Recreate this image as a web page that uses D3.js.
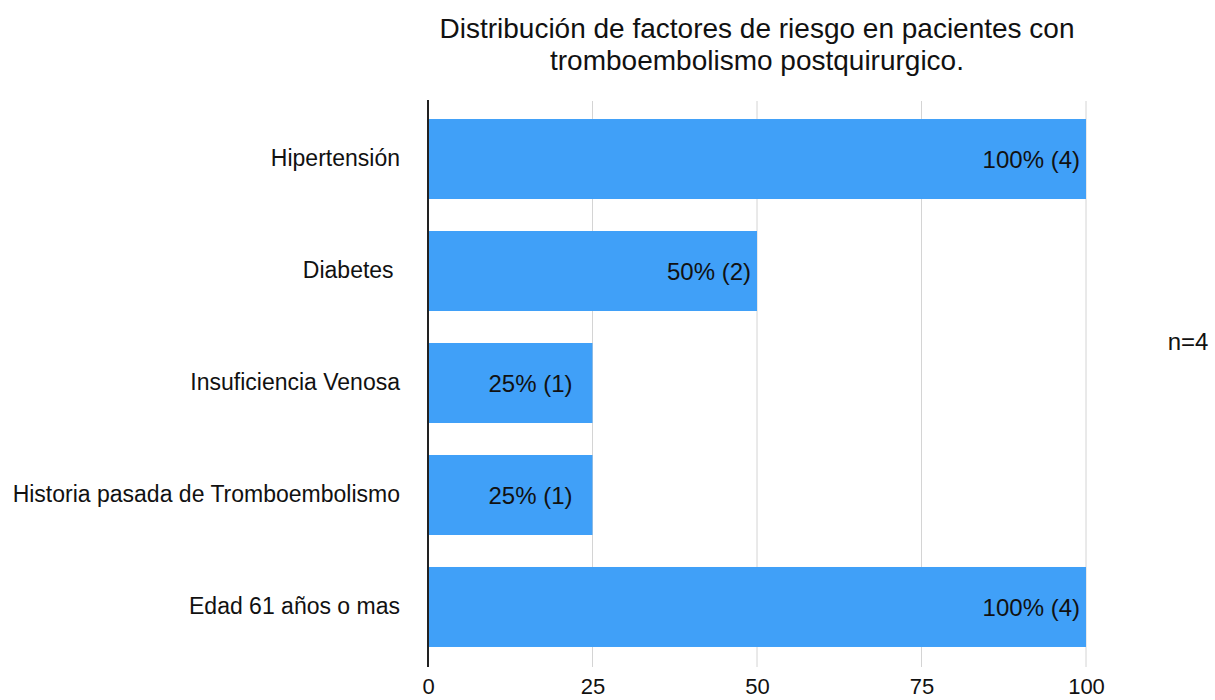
<!DOCTYPE html>
<html>
<head>
<meta charset="utf-8">
<script src="https://cdn.jsdelivr.net/npm/d3@7"></script>
<style>
  body { margin: 0; background: #fff; }
  svg { display: block; font-family: "Liberation Sans", Arial, Helvetica, sans-serif; }
</style>
</head>
<body>
<svg id="chart" width="1215" height="700"></svg>
<script>
// Risk factors and the share of patients (n=4) presenting each one
const categories = [
  "Hipertensión",
  "Diabetes ",
  "Insuficiencia Venosa",
  "Historia pasada de Tromboembolismo",
  "Edad 61 años o mas"
];
const percentages = [100, 50, 25, 25, 100];
const counts = [4, 2, 1, 1, 4];
const tickValues = [0, 25, 50, 75, 100];
const titleLines = [
  "Distribución de factores de riesgo en pacientes con",
  "tromboembolismo postquirurgico."
];
const sampleNote = "n=4";

const svg = d3.select("#chart");
const plot = { left: 428, right: 1086, top: 100, bottom: 667 };

const x = d3.scaleLinear().domain([0, 100]).range([plot.left, plot.right]);
const y = d3.scaleBand()
  .domain(categories)
  .range([103, 663])
  .paddingInner(0.2857)
  .paddingOuter(0.143);

// Vertical gridlines
svg.append("g")
  .selectAll("line")
  .data(tickValues.filter(d => d > 0))
  .join("line")
  .attr("x1", d => x(d)).attr("x2", d => x(d))
  .attr("y1", plot.top + 1).attr("y2", plot.bottom)
  .attr("stroke", "#d4d4d4")
  .attr("stroke-width", 1);

// Bars
const rows = categories.map((c, i) => ({ c, v: percentages[i], n: counts[i] }));
svg.append("g")
  .selectAll("rect")
  .data(rows)
  .join("rect")
  .attr("x", x(0))
  .attr("y", d => y(d.c))
  .attr("width", d => x(d.v) - x(0))
  .attr("height", y.bandwidth())
  .attr("fill", "#40a0f8");

// Value labels inside the bars
svg.append("g")
  .selectAll("text")
  .data(rows)
  .join("text")
  .attr("x", d => x(d.v) - (d.v <= 25 ? 20 : 6))
  .attr("y", d => y(d.c) + y.bandwidth() / 2)
  .attr("dy", "0.36em")
  .attr("text-anchor", "end")
  .attr("font-size", 24)
  .attr("fill", "#111")
  .text(d => `${d.v}% (${d.n})`);

// Baseline axis
svg.append("line")
  .attr("x1", x(0)).attr("x2", x(0))
  .attr("y1", plot.top).attr("y2", plot.bottom)
  .attr("stroke", "#222")
  .attr("stroke-width", 2);

// Category axis labels
const yAxis = d3.axisLeft(y).tickSize(0).tickPadding(28);
const gy = svg.append("g").attr("transform", `translate(${x(0)},0)`).call(yAxis);
gy.select(".domain").remove();
gy.selectAll("text")
  .attr("font-size", 23)
  .attr("fill", "#111")
  .style("white-space", "pre")
  .attr("font-family", "'Liberation Sans', Arial, sans-serif");

// Value axis tick labels
const xAxis = d3.axisBottom(x).tickValues(tickValues).tickSize(0).tickPadding(10);
const gx = svg.append("g").attr("transform", `translate(0,${plot.bottom + 1})`).call(xAxis);
gx.select(".domain").remove();
gx.selectAll("text")
  .attr("font-size", 22)
  .attr("fill", "#111")
  .attr("font-family", "'Liberation Sans', Arial, sans-serif");

// Title
svg.append("text")
  .attr("x", 757)
  .attr("y", 38)
  .attr("text-anchor", "middle")
  .attr("font-size", 28)
  .attr("fill", "#111")
  .selectAll("tspan")
  .data(titleLines)
  .join("tspan")
  .attr("x", 757)
  .attr("dy", (d, i) => i === 0 ? 0 : 32)
  .text(d => d);

// Sample size note
svg.append("text")
  .attr("x", 1188)
  .attr("y", 350)
  .attr("text-anchor", "middle")
  .attr("font-size", 24)
  .attr("fill", "#111")
  .text(sampleNote);
</script>
</body>
</html>
